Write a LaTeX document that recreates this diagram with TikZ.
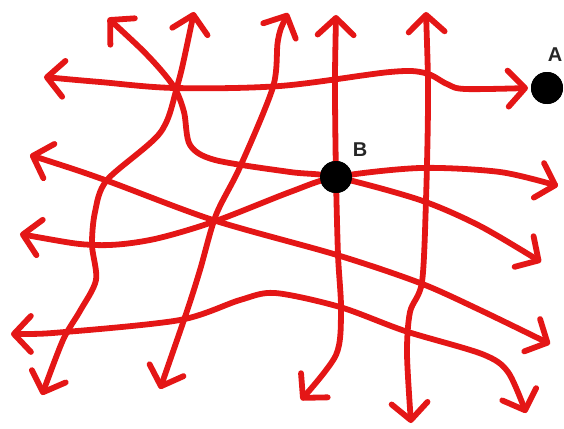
\documentclass[tikz,border=0pt]{standalone}
\usepackage{fontspec}
\setmainfont{Liberation Sans}
\usetikzlibrary{arrows.meta}
\definecolor{pen}{RGB}{228,22,22}
\tikzset{
  redline/.style={draw=pen, line width=5.8pt, line cap=round, line join=round,
    >={Straight Barb[length=17pt,width=36pt,round]}},
  dot/.style={circle, fill=black, inner sep=0pt, minimum size=32pt},
  lbl/.style={font=\bfseries\fontsize{20}{20}\selectfont, text=black!85}
}
\begin{document}
\begin{tikzpicture}[x=1pt,y=-1pt]
\useasboundingbox (0,0) rectangle (564,428);
% end points
\coordinate (L1s) at (44,77);   \coordinate (L1e) at (528,88);
\coordinate (L2s) at (108,18);  \coordinate (L2e) at (541,262);
\coordinate (L3s) at (30,155);  \coordinate (L3e) at (550,344);
\coordinate (L5s) at (20,234);  \coordinate (L5e) at (558,186);
\coordinate (L4s) at (11,334);  \coordinate (L4e) at (526,413);
\coordinate (V1s) at (194,12);  \coordinate (V1e) at (42,395);
\coordinate (V2s) at (288,13);  \coordinate (V2e) at (160,389);
\coordinate (V3s) at (336,15);  \coordinate (V3e) at (301,400);
\coordinate (V4s) at (426,12);  \coordinate (V4e) at (411,423);
% dots
\node[dot] (A) at (547,88) {};
\node[dot] (B) at (336,177) {};
\node[lbl] (Alab) at (555,55) {A};
\node[lbl] (Blab) at (360,150) {B};
\begin{scope}[redline]
% horizontal-ish lines
\draw[<->] plot[smooth,tension=0.55] coordinates {(L1s) (100,82) (175,88) (280,86) (390,72) (425,73) (447,84) (465,89) (L1e)};
\draw[<->] plot[smooth,tension=0.5] coordinates {(L2s) (150,58) (174,87) (184,112) (190,145) (215,160) (290,172) (B.center) (420,200) (480,226) (L2e)};
\draw[<->] plot[smooth,tension=0.5] coordinates {(L3s) (105,180) (213,220) (337,255) (420,283) (480,310) (L3e)};
\draw[<->] plot[smooth,tension=0.5] coordinates {(L5s) (95,245) (150,240) (213,222) (290,192) (B.center) (420,168) (500,172) (L5e)};
\draw[<->] plot[smooth,tension=0.5] coordinates {(L4s) (65,332) (180,320) (240,300) (275,293) (340,307) (405,331) (482,354) (508,372) (L4e)};
% vertical-ish lines
\draw[<->] plot[smooth,tension=0.5] coordinates {(V1s) (177,87) (160,133) (107,180) (95,212) (92,245) (96,280) (80,311) (63,340) (V1e)};
\draw[<->] plot[smooth,tension=0.5] coordinates {(V2s) (278,40) (273,87) (240,167) (216,215) (200,270) (187,311) (V2e)};
\draw[<->] plot[smooth,tension=0.5] coordinates {(V3s) (335,90) (B.center) (338,255) (341,310) (336,355) (V3e)};
\draw[<->] plot[smooth,tension=0.5] coordinates {(V4s) (428,100) (426,200) (422,282) (410,312) (407,354) (V4e)};
\end{scope}
\node[dot] at (B) {};
\node[dot] at (A) {};
\end{tikzpicture}
\end{document}
